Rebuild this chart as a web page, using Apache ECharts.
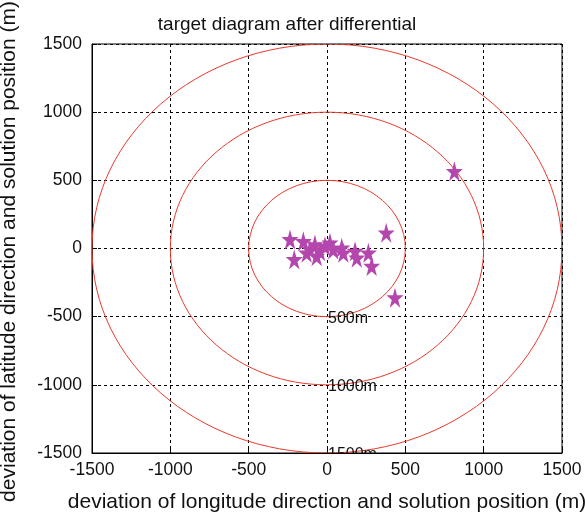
<!DOCTYPE html>
<html><head><meta charset="utf-8">
<script src="https://cdn.jsdelivr.net/npm/echarts@6/dist/echarts.min.js"></script>
<style>html,body{margin:0;padding:0;background:#fff}#c{width:585px;height:516px}</style>
</head><body><div id="c"></div>
<script>
var lonDev = [-236, -209, -151, -130, -109, -77, -66, -45, -13, 19, 40, 94, 104, 179, 190, 264, 285, 378, 434, 813];
var latDev = [66, -80, 53, -32, -7, 29, -56, -20, 17, 42, -7, 5, -32, -20, -68, -32, -129, 115, -361, 566];
var circleRadii = [500, 1000, 1500];
var circleLabels = ['500m', '1000m', '1500m'];
var tickMin = -1500, tickMax = 1500, tickStep = 500;

var pts = lonDev.map(function (x, i) { return [x, latDev[i]]; });
var chart = echarts.init(document.getElementById('c'));
var font = 'Liberation Sans, Arial, sans-serif';
function fmt(v) { return String(v); }
chart.setOption({
  animation: false,
  title: { text: 'target diagram after differential', left: 282, top: 10, textAlign: 'center',
    textStyle: { fontFamily: font, fontSize: 19, fontWeight: 'normal', color: '#111' } },
  grid: { left: 92, right: 23, top: 44, bottom: 63, show: true, borderColor: '#000', borderWidth: 1,
    containLabel: false, outerBoundsMode: 'none' },
  xAxis: {
    type: 'value', min: tickMin, max: tickMax, interval: tickStep,
    name: 'deviation of longitude direction and solution position (m)', nameLocation: 'middle', nameGap: 39,
    nameTextStyle: { fontFamily: font, fontSize: 21, color: '#111' },
    axisLine: { onZero: false, lineStyle: { color: '#000' } },
    axisTick: { inside: true, length: 5, lineStyle: { color: '#000' } },
    axisLabel: { fontFamily: font, fontSize: 17.5, color: '#111', margin: 8, formatter: fmt },
    splitLine: { show: true, lineStyle: { color: '#000', type: [3, 3], width: 1 } }
  },
  yAxis: {
    type: 'value', min: tickMin, max: tickMax, interval: tickStep,
    name: 'deviation of latitude direction and solution position (m)', nameLocation: 'middle', nameGap: 72,
    nameTextStyle: { fontFamily: font, fontSize: 21, color: '#111', padding: [0, 6, 0, 0] },
    axisLine: { onZero: false, lineStyle: { color: '#000' } },
    axisTick: { inside: true, length: 5, lineStyle: { color: '#000' } },
    axisLabel: { fontFamily: font, fontSize: 17.5, color: '#111', margin: 10, formatter: fmt },
    splitLine: { show: true, lineStyle: { color: '#000', type: [3, 3], width: 1 } }
  },
  series: [
    {
      type: 'custom', clip: true,
      data: circleRadii.map(function (r, i) { return [0, 0, r]; }),
      renderItem: function (params, api) {
        var c = api.coord([api.value(0), api.value(1)]);
        var r = api.value(2);
        var sz = api.size([r, r]);
        var bottom = api.coord([0, -r]);
        return {
          type: 'group',
          children: [
            { type: 'ellipse', shape: { cx: c[0], cy: c[1], rx: sz[0], ry: sz[1] },
              style: { fill: 'none', stroke: '#e8392c', lineWidth: 1 } },
            { type: 'text', x: bottom[0] + 1, y: bottom[1] + 2,
              style: { text: circleLabels[params.dataIndex], fill: '#111', font: '16px ' + font,
                textAlign: 'left', textVerticalAlign: 'middle' } }
          ]
        };
      },
      z: 2
    },
    {
      type: 'scatter', data: pts, symbol: 'path://M50,0 L61.8,36.2 L100,36.2 L69.1,58.8 L80.9,95.1 L50,72.7 L19.1,95.1 L30.9,58.8 L0,36.2 L38.2,36.2 Z',
      symbolSize: [17, 20], itemStyle: { color: '#b447ad', opacity: 1 }, z: 3
    }
  ]
});
</script></body></html>
